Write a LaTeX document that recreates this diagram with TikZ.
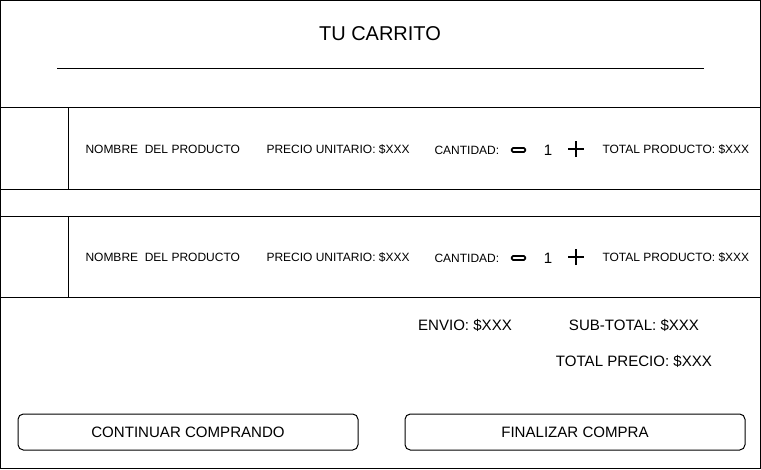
\documentclass[tikz,border=0pt]{standalone}
\usepackage{fontspec}
\setmainfont{Liberation Sans}
\usetikzlibrary{positioning}

\begin{document}
\begin{tikzpicture}[x=0.75pt,y=-0.75pt,line width=0.75pt,
  every node/.style={inner sep=0pt},
  chico/.style={font=\fontsize{9}{10}\selectfont,anchor=west},
  medio/.style={font=\fontsize{11.3}{13}\selectfont},
  boton/.style={draw,rounded corners=4pt,minimum width=255pt,minimum height=27pt,font=\fontsize{11.3}{13}\selectfont}]
  \useasboundingbox (0,0) rectangle (761,469);
  \draw (0.5,0.5) rectangle (760.5,468.5);
  % cabecera
  \node[font=\fontsize{15}{18}\selectfont] (titulo) at (380,34) {TU CARRITO};
  \coordinate (lineaA) at (57,68);
  \coordinate (lineaB) at (704,68);
  \draw (lineaA) -- (lineaB);
  % filas de productos
  \draw (0.5,107) rectangle (760.5,189);
  \draw (0.5,216) rectangle (760.5,297);
  \draw (68,107) -- (68,189);
  \draw (68,216) -- (68,297);
  \foreach \i/\y in {1/149,2/257}{
    \node[chico] (nombre\i) at (85,\y) {NOMBRE\ \ DEL PRODUCTO};
    \node[chico] (precio\i) at (266,\y) {PRECIO UNITARIO: \$XXX};
    \node[chico] (cantidad\i) at (434,\y+1) {CANTIDAD:};
    \node[draw,line width=1.3pt,rounded corners=1pt,minimum width=10pt,minimum height=3pt] (menos\i) at (518.5,\y+1) {};
    \node[medio] (uno\i) at (548,\y+1) {1};
    \coordinate (mas\i) at (576,\y);
    \draw[line width=1.5pt] ([xshift=-6pt]mas\i) -- ([xshift=6pt]mas\i)
                            ([yshift=-6pt]mas\i) -- ([yshift=6pt]mas\i);
    \node[chico] (total\i) at (602,\y) {TOTAL PRODUCTO: \$XXX};
  }
  % resumen
  \node[medio] (envio) at (465,325) {ENVIO: \$XXX};
  \node[medio] (subtotal) at (634,325) {SUB-TOTAL: \$XXX};
  \node[medio] (precio) at (634,361) {TOTAL PRECIO: \$XXX};
  % botones
  \node[boton] (continuar) at (188,432) {CONTINUAR COMPRANDO};
  \node[boton] (finalizar) at (575,432) {FINALIZAR COMPRA};
\end{tikzpicture}
\end{document}
